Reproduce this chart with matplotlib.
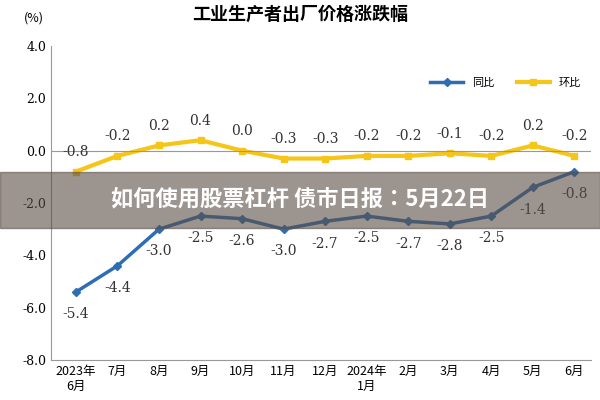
import matplotlib
matplotlib.use("Agg")
import matplotlib.pyplot as plt

plt.rcParams["font.family"] = ["Noto Sans CJK JP", "Noto Sans CJK SC", "DejaVu Sans"]

months = ["2023年\n6月", "7月", "8月", "9月", "10月", "11月", "12月", "2024年\n1月", "2月", "3月", "4月", "5月", "6月"]
yoy = [-5.4, -4.4, -3.0, -2.5, -2.6, -3.0, -2.7, -2.5, -2.7, -2.8, -2.5, -1.4, -0.8]
mom = [-0.8, -0.2, 0.2, 0.4, 0.0, -0.3, -0.3, -0.2, -0.2, -0.1, -0.2, 0.2, -0.2]

fig, ax = plt.subplots(figsize=(6, 4), dpi=100)
fig.subplots_adjust(left=0.085, right=0.985, top=0.885, bottom=0.1)
x = list(range(len(months)))
ax.plot(x, yoy, color="#2E6DB4", lw=2.5, marker="D", ms=4, label="同比")
ax.plot(x, mom, color="#F5C518", lw=3, marker="s", ms=5, label="环比")
for i, v in enumerate(yoy):
    ax.annotate(f"{v:.1f}", (i, v), xytext=(0, -16), textcoords="offset points",
                ha="center", va="center", fontsize=10, family="DejaVu Serif", color="#333")
for i, v in enumerate(mom):
    ax.annotate(f"{v:.1f}", (i, v), xytext=(0, 14), textcoords="offset points",
                ha="center", va="center", fontsize=10, family="DejaVu Serif", color="#333")
ax.set_ylim(-8, 4)
ax.set_yticks([-8, -6, -4, -2, 0, 2, 4])
ax.set_yticklabels([f"{t:.1f}" for t in [-8, -6, -4, -2, 0, 2, 4]], family="DejaVu Serif", fontsize=9)
ax.set_xlim(-0.6, 12.4)
ax.set_xticks(x)
ax.set_xticklabels(months, fontsize=9)
ax.tick_params(length=0)
for s in ["top", "right"]:
    ax.spines[s].set_visible(False)
ax.spines["left"].set_color("#999")
ax.spines["bottom"].set_color("#999")
ax.axhline(0, color="#999", lw=0.8)
ax.legend(loc="upper right", bbox_to_anchor=(1.0, 0.93), ncol=2, frameon=False, fontsize=8, handlelength=3)
fig.text(0.5, 0.95, "工业生产者出厂价格涨跌幅", ha="center", fontsize=13, weight="bold")
fig.text(0.04, 0.945, "(%)", fontsize=9)
fig.patches.append(plt.Rectangle((0, 0.43), 1, 0.14, transform=fig.transFigure, color="#5a4e44", alpha=0.6, zorder=5))
fig.text(0.5, 0.5, "如何使用股票杠杆 债市日报：5月22日", ha="center", va="center", fontsize=16, color="white", weight="bold", zorder=6)
fig.savefig("out.png")
